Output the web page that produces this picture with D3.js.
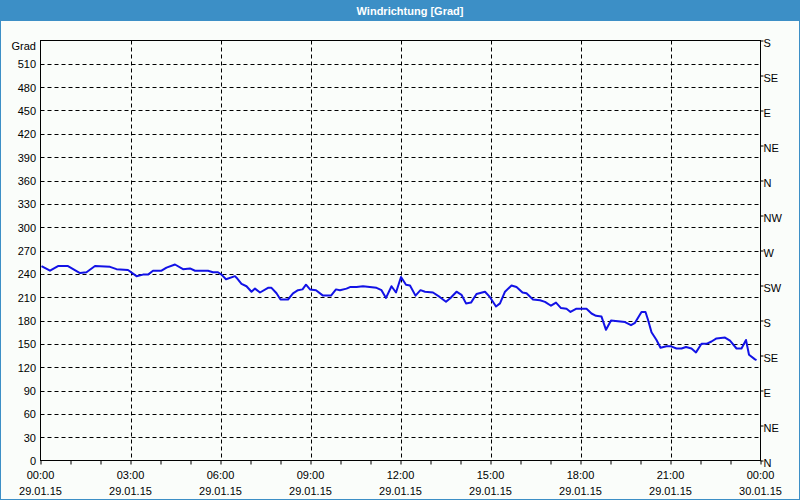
<!DOCTYPE html>
<html>
<head>
<meta charset="utf-8">
<script src="https://cdn.jsdelivr.net/npm/d3@7"></script>
<style>
  body { margin: 0; background: #fafdfa; }
  text { font-family: "Liberation Sans", Arial, sans-serif; font-size: 11px; fill: #000; }
</style>
</head>
<body>
<div id="chart"></div>
<script>
const times = ["00:02","00:19","00:35","00:55","01:19","01:32","01:49","02:19","02:32","02:55",
  "03:12","03:25","03:35","03:45","04:02","04:12","04:29","04:45","04:59","05:09",
  "05:35","05:45","05:55","06:02","06:11","06:29","06:32","06:42","06:52","07:02",
  "07:09","07:19","07:35","07:42","07:52","08:00","08:15","08:25","08:35","08:44",
  "08:51","08:59","09:11","09:25","09:41","09:51","09:59","10:12","10:19","10:32",
  "10:45","11:12","11:22","11:31","11:42","11:51","12:01","12:11","12:19","12:30",
  "12:40","12:49","13:05","13:19","13:31","13:40","13:52","14:02","14:11","14:21",
  "14:32","14:49","14:59","15:11","15:19","15:29","15:42","15:52","16:04","16:12",
  "16:25","16:39","16:49","17:01","17:11","17:21","17:32","17:40","17:51","18:05",
  "18:12","18:22","18:31","18:42","18:51","19:01","19:15","19:29","19:41","19:49",
  "20:02","20:10","20:15","20:22","20:32","20:40","20:52","21:00","21:12","21:22",
  "21:31","21:42","21:51","22:02","22:12","22:22","22:32","22:49","22:59","23:12",
  "23:22","23:31","23:37","23:49","23:52"]
const values = [250,244,250,250,241,242,250,249,246,245,
  237,239,239,244,244,248,252,246,247,244,
  244,242,242,239,233,237,235,227,224,217,
  221,216,222,222,215,207,207,215,219,220,
  226,220,219,212,212,220,219,221,223,223,
  224,222,219,209,224,216,236,226,225,212,
  219,217,216,210,204,209,217,213,202,203,
  214,217,210,198,202,217,225,223,216,215,
  207,206,204,199,203,196,195,191,195,195,
  195,189,186,185,168,180,179,178,174,177,
  191,191,181,165,155,145,147,147,144,144,
  146,144,139,150,150,153,157,158,154,144,
  144,155,136,130,129]

const yTicks = [0,30,60,90,120,150,180,210,240,270,300,330,360,390,420,450,480,510]
const compassTicks = [0,45,90,135,180,225,270,315,360,405,450,495,540]
const compassLabels = ["N","NE","E","SE","S","SW","W","NW","N","NE","E","SE","S"]

const W = 800, H = 500
const pl = 40.5, pr = 760.5, pt = 40.5, pb = 460.5

const svg = d3.select('#chart').append('svg')
  .attr('width', W).attr('height', H)

svg.append('rect').attr('width', W).attr('height', H).attr('fill', '#fafdfa')
svg.append('rect').attr('x', 0.5).attr('y', 0.5).attr('width', W - 1).attr('height', H - 1)
  .attr('fill', 'none').attr('stroke', '#3c8fc6')
svg.append('rect').attr('width', W).attr('height', 21).attr('fill', '#3c8fc6')
svg.append('text').attr('x', 410).attr('y', 14.5)
  .attr('text-anchor', 'middle')
  .style('fill', '#fff').style('font-weight', 'bold')
  .text('Windrichtung [Grad]')

const parse = d3.timeParse('%Y-%m-%d %H:%M')
const t0 = parse('2015-01-29 00:00'), t1 = parse('2015-01-30 00:00')
const data = times.map((t, i) => ({date: parse('2015-01-29 ' + t), v: values[i]}))

const x = d3.scaleTime().domain([t0, t1]).range([pl, pr])
const y = d3.scaleLinear().domain([0, 540]).range([pb, pt])

// grid
const grid = svg.append('g').attr('stroke', '#000').attr('stroke-dasharray', '4,3')
grid.selectAll('.hg').data(yTicks.filter(d => d > 0)).join('line')
  .attr('x1', pl).attr('x2', pr)
  .attr('y1', d => Math.round(y(d)) + 0.5).attr('y2', d => Math.round(y(d)) + 0.5)
const majorHours = d3.timeHour.every(3).range(t0, t1).filter(d => +d !== +t0)
grid.selectAll('.vg').data(majorHours).join('line')
  .attr('x1', d => Math.round(x(d)) + 0.5).attr('x2', d => Math.round(x(d)) + 0.5)
  .attr('y1', pt).attr('y2', pb)

// left axis labels
svg.append('g').selectAll('text').data(yTicks).join('text')
  .attr('x', 36).attr('y', d => y(d) + 4.5)
  .attr('text-anchor', 'end').text(d => d)
svg.append('text').attr('x', 36).attr('y', 50).attr('text-anchor', 'end').text('Grad')

// right compass axis
const yc = d3.scaleLinear().domain([0, 540]).range([pb, pt])
svg.append('g').attr('transform', `translate(${pr},0)`)
  .call(d3.axisRight(yc).tickValues(compassTicks).tickSize(3)
    .tickFormat((d, i) => compassLabels[i]))
  .call(g => g.select('.domain').remove())
  .call(g => g.selectAll('text').attr('x', 3).attr('dy', '0.55em')
    .style('font-family', '"Liberation Sans", Arial, sans-serif').style('font-size', '11px'))
  .call(g => g.selectAll('line').attr('stroke', '#000'))

// bottom axis
svg.append('g').attr('transform', `translate(0,${pb})`)
  .call(d3.axisBottom(x).ticks(d3.timeHour.every(1)).tickSize(4).tickFormat(''))
  .call(g => g.select('.domain').remove())
  .call(g => g.selectAll('line').attr('stroke', '#000'))

const fmtT = d3.timeFormat('%H:%M'), fmtD = d3.timeFormat('%d.%m.%y')
const labels = svg.append('g').selectAll('text')
  .data(d3.timeHour.every(3).range(t0, d3.timeMinute.offset(t1, 1)))
  .join('text').attr('text-anchor', 'middle')
labels.append('tspan').attr('x', d => x(d)).attr('y', 479).text(d => fmtT(d))
labels.append('tspan').attr('x', d => x(d)).attr('y', 495).text(d => fmtD(d))

// frame
svg.append('rect').attr('x', pl).attr('y', pt)
  .attr('width', pr - pl).attr('height', pb - pt)
  .attr('fill', 'none').attr('stroke', '#000')

// data line
const line = d3.line().x(d => x(d.date)).y(d => y(d.v))
svg.append('path').datum(data)
  .attr('fill', 'none').attr('stroke', '#1212e6').attr('stroke-width', 2)
  .attr('stroke-linejoin', 'round')
  .attr('d', line)
</script>
</body>
</html>
